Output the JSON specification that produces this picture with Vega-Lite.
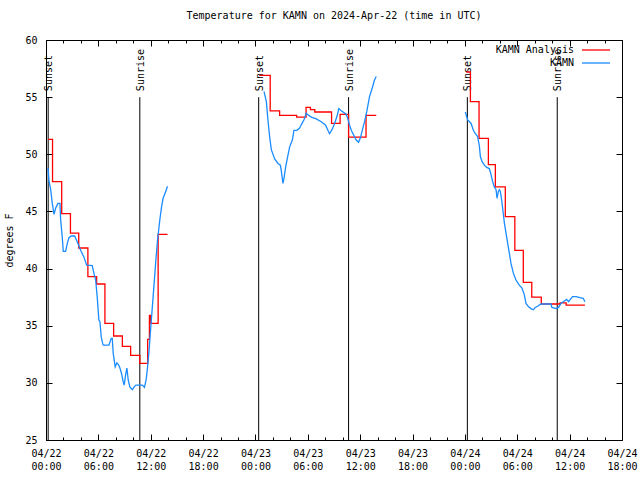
{
  "$schema": "https://vega.github.io/schema/vega-lite/v6.json",
  "width": 576,
  "height": 400,
  "autosize": {"type": "none"},
  "padding": {"left": 46, "top": 40, "right": 18, "bottom": 40},
  "background": "white",
  "title": {"text": "Temperature for KAMN on 2024-Apr-22 (time in UTC)", "font": "DejaVu Sans Mono", "fontSize": 10, "fontWeight": "normal", "anchor": "middle", "offset": 14, "color": "black"},
  "config": {
    "view": {"stroke": "black", "strokeWidth": 1},
    "axis": {"grid": false, "domainColor": "black", "tickColor": "black", "labelColor": "black", "labelFont": "DejaVu Sans Mono", "labelFontSize": 10, "titleFont": "DejaVu Sans Mono", "titleFontSize": 10, "titleFontWeight": "normal", "titleColor": "black"}
  },
  "datasets": {
    "sun": [
      {"event": "Sunset", "h": 0.25},
      {"event": "Sunrise", "h": 10.75},
      {"event": "Sunset", "h": 24.37},
      {"event": "Sunrise", "h": 34.67},
      {"event": "Sunset", "h": 48.28},
      {"event": "Sunrise", "h": 58.58}
    ],
    "temps": [
      {"series": "KAMN Analysis", "seg": 1, "h": 0.23, "t": 51.3},
      {"series": "KAMN Analysis", "seg": 1, "h": 0.75, "t": 47.6},
      {"series": "KAMN Analysis", "seg": 1, "h": 1.8, "t": 44.8},
      {"series": "KAMN Analysis", "seg": 1, "h": 2.8, "t": 43.1},
      {"series": "KAMN Analysis", "seg": 1, "h": 3.75, "t": 41.8},
      {"series": "KAMN Analysis", "seg": 1, "h": 4.8, "t": 39.3},
      {"series": "KAMN Analysis", "seg": 1, "h": 5.8, "t": 38.65},
      {"series": "KAMN Analysis", "seg": 1, "h": 6.75, "t": 35.2},
      {"series": "KAMN Analysis", "seg": 1, "h": 7.75, "t": 34.1},
      {"series": "KAMN Analysis", "seg": 1, "h": 8.75, "t": 33.2},
      {"series": "KAMN Analysis", "seg": 1, "h": 9.7, "t": 32.4},
      {"series": "KAMN Analysis", "seg": 1, "h": 10.75, "t": 31.7},
      {"series": "KAMN Analysis", "seg": 1, "h": 11.65, "t": 33.8},
      {"series": "KAMN Analysis", "seg": 1, "h": 11.85, "t": 35.9},
      {"series": "KAMN Analysis", "seg": 1, "h": 12.0, "t": 35.2},
      {"series": "KAMN Analysis", "seg": 1, "h": 12.85, "t": 43.0},
      {"series": "KAMN Analysis", "seg": 1, "h": 13.92, "t": 43.0},
      {"series": "KAMN Analysis", "seg": 2, "h": 24.43, "t": 56.9},
      {"series": "KAMN Analysis", "seg": 2, "h": 25.69, "t": 53.8},
      {"series": "KAMN Analysis", "seg": 2, "h": 26.77, "t": 53.4},
      {"series": "KAMN Analysis", "seg": 2, "h": 28.72, "t": 53.25},
      {"series": "KAMN Analysis", "seg": 2, "h": 29.8, "t": 54.1},
      {"series": "KAMN Analysis", "seg": 2, "h": 30.3, "t": 53.9},
      {"series": "KAMN Analysis", "seg": 2, "h": 30.8, "t": 53.7},
      {"series": "KAMN Analysis", "seg": 2, "h": 32.72, "t": 52.7},
      {"series": "KAMN Analysis", "seg": 2, "h": 33.7, "t": 53.5},
      {"series": "KAMN Analysis", "seg": 2, "h": 34.67, "t": 51.5},
      {"series": "KAMN Analysis", "seg": 2, "h": 36.67, "t": 53.4},
      {"series": "KAMN Analysis", "seg": 2, "h": 37.84, "t": 53.4},
      {"series": "KAMN Analysis", "seg": 3, "h": 48.15, "t": 57.2},
      {"series": "KAMN Analysis", "seg": 3, "h": 48.63, "t": 54.6},
      {"series": "KAMN Analysis", "seg": 3, "h": 49.62, "t": 51.4},
      {"series": "KAMN Analysis", "seg": 3, "h": 50.69, "t": 49.1},
      {"series": "KAMN Analysis", "seg": 3, "h": 51.49, "t": 47.15},
      {"series": "KAMN Analysis", "seg": 3, "h": 52.63, "t": 44.55},
      {"series": "KAMN Analysis", "seg": 3, "h": 53.72, "t": 41.6},
      {"series": "KAMN Analysis", "seg": 3, "h": 54.69, "t": 38.8},
      {"series": "KAMN Analysis", "seg": 3, "h": 55.66, "t": 37.5},
      {"series": "KAMN Analysis", "seg": 3, "h": 56.75, "t": 36.9},
      {"series": "KAMN Analysis", "seg": 3, "h": 58.9, "t": 37.0},
      {"series": "KAMN Analysis", "seg": 3, "h": 59.6, "t": 36.8},
      {"series": "KAMN Analysis", "seg": 3, "h": 61.75, "t": 36.8},
      {"series": "KAMN", "seg": 1, "h": 0.23, "t": 48.8},
      {"series": "KAMN", "seg": 1, "h": 0.35, "t": 47.6},
      {"series": "KAMN", "seg": 1, "h": 0.54, "t": 46.9},
      {"series": "KAMN", "seg": 1, "h": 0.72, "t": 45.7},
      {"series": "KAMN", "seg": 1, "h": 0.92, "t": 44.75},
      {"series": "KAMN", "seg": 1, "h": 1.11, "t": 45.3},
      {"series": "KAMN", "seg": 1, "h": 1.37, "t": 45.7},
      {"series": "KAMN", "seg": 1, "h": 1.6, "t": 45.7},
      {"series": "KAMN", "seg": 1, "h": 1.68, "t": 44.25},
      {"series": "KAMN", "seg": 1, "h": 1.86, "t": 42.8},
      {"series": "KAMN", "seg": 1, "h": 1.98, "t": 41.5},
      {"series": "KAMN", "seg": 1, "h": 2.25, "t": 41.5},
      {"series": "KAMN", "seg": 1, "h": 2.44, "t": 42.2},
      {"series": "KAMN", "seg": 1, "h": 2.63, "t": 42.7},
      {"series": "KAMN", "seg": 1, "h": 2.89, "t": 42.85},
      {"series": "KAMN", "seg": 1, "h": 3.28, "t": 42.85},
      {"series": "KAMN", "seg": 1, "h": 3.58, "t": 42.35},
      {"series": "KAMN", "seg": 1, "h": 3.97, "t": 41.6},
      {"series": "KAMN", "seg": 1, "h": 4.35, "t": 41.0},
      {"series": "KAMN", "seg": 1, "h": 4.66, "t": 40.3},
      {"series": "KAMN", "seg": 1, "h": 5.3, "t": 40.25},
      {"series": "KAMN", "seg": 1, "h": 5.49, "t": 39.6},
      {"series": "KAMN", "seg": 1, "h": 5.69, "t": 39.0},
      {"series": "KAMN", "seg": 1, "h": 5.87, "t": 37.5},
      {"series": "KAMN", "seg": 1, "h": 6.06, "t": 35.5},
      {"series": "KAMN", "seg": 1, "h": 6.18, "t": 35.35},
      {"series": "KAMN", "seg": 1, "h": 6.33, "t": 34.0},
      {"series": "KAMN", "seg": 1, "h": 6.49, "t": 33.45},
      {"series": "KAMN", "seg": 1, "h": 6.56, "t": 33.3},
      {"series": "KAMN", "seg": 1, "h": 7.21, "t": 33.3},
      {"series": "KAMN", "seg": 1, "h": 7.47, "t": 33.9},
      {"series": "KAMN", "seg": 1, "h": 7.59, "t": 33.9},
      {"series": "KAMN", "seg": 1, "h": 7.7, "t": 32.6},
      {"series": "KAMN", "seg": 1, "h": 7.93, "t": 31.4},
      {"series": "KAMN", "seg": 1, "h": 8.12, "t": 31.75},
      {"series": "KAMN", "seg": 1, "h": 8.3, "t": 31.6},
      {"series": "KAMN", "seg": 1, "h": 8.47, "t": 31.3},
      {"series": "KAMN", "seg": 1, "h": 8.66, "t": 30.8},
      {"series": "KAMN", "seg": 1, "h": 8.84, "t": 30.1},
      {"series": "KAMN", "seg": 1, "h": 8.96, "t": 29.8},
      {"series": "KAMN", "seg": 1, "h": 9.12, "t": 30.7},
      {"series": "KAMN", "seg": 1, "h": 9.27, "t": 31.3},
      {"series": "KAMN", "seg": 1, "h": 9.42, "t": 30.25},
      {"series": "KAMN", "seg": 1, "h": 9.61, "t": 29.65},
      {"series": "KAMN", "seg": 1, "h": 9.9, "t": 29.4},
      {"series": "KAMN", "seg": 1, "h": 10.1, "t": 29.65},
      {"series": "KAMN", "seg": 1, "h": 10.3, "t": 29.8},
      {"series": "KAMN", "seg": 1, "h": 11.06, "t": 29.8},
      {"series": "KAMN", "seg": 1, "h": 11.28, "t": 29.6},
      {"series": "KAMN", "seg": 1, "h": 11.48, "t": 30.3},
      {"series": "KAMN", "seg": 1, "h": 11.64, "t": 31.4},
      {"series": "KAMN", "seg": 1, "h": 11.82, "t": 32.9},
      {"series": "KAMN", "seg": 1, "h": 11.98, "t": 34.6},
      {"series": "KAMN", "seg": 1, "h": 12.16, "t": 36.4},
      {"series": "KAMN", "seg": 1, "h": 12.36, "t": 38.4},
      {"series": "KAMN", "seg": 1, "h": 12.59, "t": 40.75},
      {"series": "KAMN", "seg": 1, "h": 12.78, "t": 42.5},
      {"series": "KAMN", "seg": 1, "h": 13.04, "t": 44.25},
      {"series": "KAMN", "seg": 1, "h": 13.24, "t": 45.4},
      {"series": "KAMN", "seg": 1, "h": 13.42, "t": 46.15},
      {"series": "KAMN", "seg": 1, "h": 13.7, "t": 46.7},
      {"series": "KAMN", "seg": 1, "h": 13.92, "t": 47.2},
      {"series": "KAMN", "seg": 2, "h": 24.98, "t": 55.5},
      {"series": "KAMN", "seg": 2, "h": 25.25, "t": 54.6},
      {"series": "KAMN", "seg": 2, "h": 25.43, "t": 53.0},
      {"series": "KAMN", "seg": 2, "h": 25.63, "t": 51.5},
      {"series": "KAMN", "seg": 2, "h": 25.82, "t": 50.4},
      {"series": "KAMN", "seg": 2, "h": 26.2, "t": 49.6},
      {"series": "KAMN", "seg": 2, "h": 26.58, "t": 49.2},
      {"series": "KAMN", "seg": 2, "h": 26.85, "t": 49.05},
      {"series": "KAMN", "seg": 2, "h": 26.97, "t": 48.5},
      {"series": "KAMN", "seg": 2, "h": 27.15, "t": 47.45},
      {"series": "KAMN", "seg": 2, "h": 27.27, "t": 47.9},
      {"series": "KAMN", "seg": 2, "h": 27.46, "t": 48.9},
      {"series": "KAMN", "seg": 2, "h": 27.65, "t": 49.65},
      {"series": "KAMN", "seg": 2, "h": 27.92, "t": 50.65},
      {"series": "KAMN", "seg": 2, "h": 28.23, "t": 51.25},
      {"series": "KAMN", "seg": 2, "h": 28.41, "t": 52.1},
      {"series": "KAMN", "seg": 2, "h": 28.75, "t": 52.1},
      {"series": "KAMN", "seg": 2, "h": 29.06, "t": 52.3},
      {"series": "KAMN", "seg": 2, "h": 29.26, "t": 52.6},
      {"series": "KAMN", "seg": 2, "h": 29.55, "t": 53.0},
      {"series": "KAMN", "seg": 2, "h": 29.83, "t": 53.6},
      {"series": "KAMN", "seg": 2, "h": 30.01, "t": 53.45},
      {"series": "KAMN", "seg": 2, "h": 30.4, "t": 53.25},
      {"series": "KAMN", "seg": 2, "h": 30.97, "t": 53.1},
      {"series": "KAMN", "seg": 2, "h": 31.54, "t": 52.85},
      {"series": "KAMN", "seg": 2, "h": 32.04, "t": 52.55},
      {"series": "KAMN", "seg": 2, "h": 32.3, "t": 52.1},
      {"series": "KAMN", "seg": 2, "h": 32.49, "t": 51.8},
      {"series": "KAMN", "seg": 2, "h": 32.8, "t": 52.2},
      {"series": "KAMN", "seg": 2, "h": 33.07, "t": 52.7},
      {"series": "KAMN", "seg": 2, "h": 33.33, "t": 53.3},
      {"series": "KAMN", "seg": 2, "h": 33.56, "t": 54.0},
      {"series": "KAMN", "seg": 2, "h": 33.83, "t": 53.8},
      {"series": "KAMN", "seg": 2, "h": 34.21, "t": 53.6},
      {"series": "KAMN", "seg": 2, "h": 34.4, "t": 53.5},
      {"series": "KAMN", "seg": 2, "h": 34.59, "t": 53.1},
      {"series": "KAMN", "seg": 2, "h": 34.78, "t": 52.55},
      {"series": "KAMN", "seg": 2, "h": 34.98, "t": 52.1},
      {"series": "KAMN", "seg": 2, "h": 35.24, "t": 51.7},
      {"series": "KAMN", "seg": 2, "h": 35.55, "t": 51.25},
      {"series": "KAMN", "seg": 2, "h": 35.81, "t": 51.05},
      {"series": "KAMN", "seg": 2, "h": 36.01, "t": 51.4},
      {"series": "KAMN", "seg": 2, "h": 36.24, "t": 52.1},
      {"series": "KAMN", "seg": 2, "h": 36.5, "t": 52.85},
      {"series": "KAMN", "seg": 2, "h": 36.76, "t": 53.75},
      {"series": "KAMN", "seg": 2, "h": 37.07, "t": 55.05},
      {"series": "KAMN", "seg": 2, "h": 37.38, "t": 55.8},
      {"series": "KAMN", "seg": 2, "h": 37.64, "t": 56.5},
      {"series": "KAMN", "seg": 2, "h": 37.84, "t": 56.8},
      {"series": "KAMN", "seg": 3, "h": 48.05, "t": 53.7},
      {"series": "KAMN", "seg": 3, "h": 48.2, "t": 53.3},
      {"series": "KAMN", "seg": 3, "h": 48.32, "t": 53.0},
      {"series": "KAMN", "seg": 3, "h": 48.71, "t": 52.7},
      {"series": "KAMN", "seg": 3, "h": 48.97, "t": 52.1},
      {"series": "KAMN", "seg": 3, "h": 49.2, "t": 51.8},
      {"series": "KAMN", "seg": 3, "h": 49.46, "t": 51.55},
      {"series": "KAMN", "seg": 3, "h": 49.66, "t": 50.7},
      {"series": "KAMN", "seg": 3, "h": 49.77, "t": 49.8},
      {"series": "KAMN", "seg": 3, "h": 49.97, "t": 49.35},
      {"series": "KAMN", "seg": 3, "h": 50.23, "t": 49.05},
      {"series": "KAMN", "seg": 3, "h": 50.5, "t": 48.85},
      {"series": "KAMN", "seg": 3, "h": 50.8, "t": 48.75},
      {"series": "KAMN", "seg": 3, "h": 51.0, "t": 48.2},
      {"series": "KAMN", "seg": 3, "h": 51.18, "t": 47.6},
      {"series": "KAMN", "seg": 3, "h": 51.37, "t": 47.15},
      {"series": "KAMN", "seg": 3, "h": 51.57, "t": 46.9},
      {"series": "KAMN", "seg": 3, "h": 51.68, "t": 46.15},
      {"series": "KAMN", "seg": 3, "h": 51.83, "t": 46.75},
      {"series": "KAMN", "seg": 3, "h": 51.95, "t": 46.9},
      {"series": "KAMN", "seg": 3, "h": 52.06, "t": 46.75},
      {"series": "KAMN", "seg": 3, "h": 52.21, "t": 46.0},
      {"series": "KAMN", "seg": 3, "h": 52.4, "t": 44.8},
      {"series": "KAMN", "seg": 3, "h": 52.52, "t": 44.0},
      {"series": "KAMN", "seg": 3, "h": 52.71, "t": 43.1},
      {"series": "KAMN", "seg": 3, "h": 52.9, "t": 42.2},
      {"series": "KAMN", "seg": 3, "h": 53.09, "t": 41.35},
      {"series": "KAMN", "seg": 3, "h": 53.28, "t": 40.45},
      {"series": "KAMN", "seg": 3, "h": 53.55, "t": 39.6},
      {"series": "KAMN", "seg": 3, "h": 53.85, "t": 39.0},
      {"series": "KAMN", "seg": 3, "h": 54.23, "t": 38.55},
      {"series": "KAMN", "seg": 3, "h": 54.54, "t": 38.3},
      {"series": "KAMN", "seg": 3, "h": 54.81, "t": 37.7},
      {"series": "KAMN", "seg": 3, "h": 55.0, "t": 36.95},
      {"series": "KAMN", "seg": 3, "h": 55.3, "t": 36.65},
      {"series": "KAMN", "seg": 3, "h": 55.57, "t": 36.5},
      {"series": "KAMN", "seg": 3, "h": 55.84, "t": 36.4},
      {"series": "KAMN", "seg": 3, "h": 56.06, "t": 36.6},
      {"series": "KAMN", "seg": 3, "h": 56.33, "t": 36.7},
      {"series": "KAMN", "seg": 3, "h": 56.71, "t": 36.9},
      {"series": "KAMN", "seg": 3, "h": 57.86, "t": 36.9},
      {"series": "KAMN", "seg": 3, "h": 57.97, "t": 36.6},
      {"series": "KAMN", "seg": 3, "h": 58.43, "t": 36.5},
      {"series": "KAMN", "seg": 3, "h": 58.73, "t": 36.6},
      {"series": "KAMN", "seg": 3, "h": 59.0, "t": 36.95},
      {"series": "KAMN", "seg": 3, "h": 59.27, "t": 37.1},
      {"series": "KAMN", "seg": 3, "h": 59.65, "t": 37.3},
      {"series": "KAMN", "seg": 3, "h": 59.88, "t": 37.1},
      {"series": "KAMN", "seg": 3, "h": 60.07, "t": 37.3},
      {"series": "KAMN", "seg": 3, "h": 60.34, "t": 37.55},
      {"series": "KAMN", "seg": 3, "h": 60.73, "t": 37.55},
      {"series": "KAMN", "seg": 3, "h": 61.19, "t": 37.45},
      {"series": "KAMN", "seg": 3, "h": 61.56, "t": 37.4},
      {"series": "KAMN", "seg": 3, "h": 61.75, "t": 37.1}
    ]
  },
  "layer": [
    {
      "data": {"name": "sun"},
      "mark": {"type": "rule", "color": "black", "strokeWidth": 1},
      "encoding": {
        "x": {"field": "h", "type": "quantitative", "scale": {"domain": [0, 66], "nice": false, "zero": false},
          "axis": {"orient": "top", "title": null, "labels": false, "domain": false, "values": [0,2,4,6,8,10,12,14,16,18,20,22,24,26,28,30,32,34,36,38,40,42,44,46,48,50,52,54,56,58,60,62,64,66],
            "tickSize": {"condition": {"test": "datum.value % 6 == 0", "value": -6}, "value": -3}}},
        "y": {"datum": 25, "type": "quantitative", "scale": {"domain": [25, 60], "nice": false, "zero": false},
          "axis": {"orient": "right", "title": null, "labels": false, "domain": false, "values": [25,30,35,40,45,50,55,60], "tickSize": -6}},
        "y2": {"datum": 55}
      }
    },
    {
      "data": {"name": "sun"},
      "mark": {"type": "text", "angle": 270, "align": "left", "baseline": "middle", "dx": 6, "dy": 1, "font": "DejaVu Sans Mono", "fontSize": 10, "color": "black"},
      "encoding": {
        "x": {"field": "h", "type": "quantitative", "axis": null},
        "y": {"datum": 55, "type": "quantitative", "axis": null},
        "text": {"field": "event"}
      }
    },
    {
      "data": {"name": "temps"},
      "transform": [{"filter": "datum.series == 'KAMN Analysis'"}],
      "mark": {"type": "line", "interpolate": "step-after", "strokeWidth": 1.3},
      "encoding": {
        "x": {"field": "h", "type": "quantitative",
          "axis": {"orient": "bottom", "title": null, "values": [0,2,4,6,8,10,12,14,16,18,20,22,24,26,28,30,32,34,36,38,40,42,44,46,48,50,52,54,56,58,60,62,64,66],
            "tickSize": {"condition": {"test": "datum.value % 6 == 0", "value": -6}, "value": -3},
            "labelPadding": 14, "labelFlush": false, "labelOverlap": false, "labelBound": false, "labelLineHeight": 13, "labelBaseline": "top",
            "labelExpr": "datum.value % 6 == 0 ? ['04/' + (22 + floor(datum.value / 24)), ((datum.value % 24) < 10 ? '0' : '') + (datum.value % 24) + ':00'] : ''"}},
        "y": {"field": "t", "type": "quantitative",
          "axis": {"orient": "left", "title": "degrees F", "values": [25,30,35,40,45,50,55,60], "tickSize": -6, "labelPadding": 15, "titlePadding": 10}},
        "color": {"field": "series", "type": "nominal",
          "scale": {"domain": ["KAMN Analysis", "KAMN"], "range": ["#ff0000", "#1a8cff"]},
          "legend": {"title": null, "orient": "none", "legendX": 542, "legendY": 2, "symbolType": "M-2,0H2", "symbolSize": 196, "symbolStrokeWidth": 1.3, "labelAlign": "right", "labelOffset": -30, "labelFont": "DejaVu Sans Mono", "labelFontSize": 10, "labelColor": "black", "padding": 0, "rowPadding": -2}},
        "detail": {"field": "seg"}
      }
    },
    {
      "data": {"name": "temps"},
      "transform": [{"filter": "datum.series == 'KAMN'"}],
      "mark": {"type": "line", "strokeWidth": 1.3},
      "encoding": {
        "x": {"field": "h", "type": "quantitative", "axis": null},
        "y": {"field": "t", "type": "quantitative", "axis": null},
        "color": {"field": "series", "type": "nominal"},
        "detail": {"field": "seg"}
      }
    }
  ],
  "resolve": {"axis": {"x": "independent", "y": "independent"}}
}
